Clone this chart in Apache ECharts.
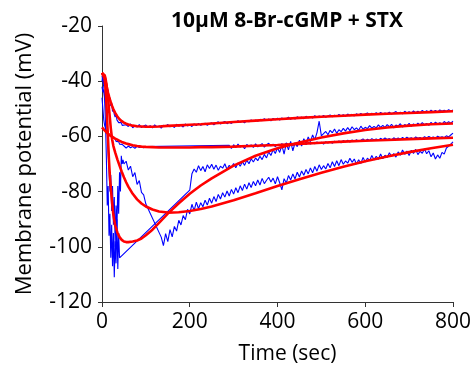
<!DOCTYPE html>
<html>
<head>
<meta charset="utf-8">
<script src="https://cdn.jsdelivr.net/npm/echarts@6/dist/echarts.min.js"></script>
<style>
html,body{margin:0;padding:0;background:#fff;}
#chart{width:474px;height:374px;}
</style>
</head>
<body>
<div id="chart"></div>
<script>
// Sample times (sec) shared by the recorded (blue) traces
var timeSec = [
  0,2,4,6,8,10,12,14,16,18,20,22,24,26,28,30,32,34,36,38,40,42,44,46,48,50,
  55,60,65,70,75,80,85,90,95,100,
  105,110,115,120,125,130,135,140,145,150,
  155,160,165,170,175,180,185,190,195,200,
  205,210,215,220,225,230,235,240,245,250,
  255,260,265,270,275,280,285,290,295,300,
  305,310,315,320,325,330,335,340,345,350,
  355,360,365,370,375,380,385,390,395,400,
  405,410,415,420,425,430,435,440,445,450,
  455,460,465,470,475,480,485,490,495,500,
  505,510,515,520,525,530,535,540,545,550,
  555,560,565,570,575,580,585,590,595,600,
  605,610,615,620,625,630,635,640,645,650,
  655,660,665,670,675,680,685,690,695,700,
  705,710,715,720,725,730,735,740,745,750,
  755,760,765,770,775,780,785,790,795,800
];

// Recorded membrane potential (mV), null = gap in recording
var trace1 = [
  -40,-38,-41,-39,-42,-40,-44,-43,-47,-46,-49,-48,-51,-50,-52,-53,-52,-54,-53.5,-55,-54.5,-55.5,-55,-56,-55.5,-56,
  -55.8,-56.4,-55.5,-56.9,-56.0,-56.6,-55.7,-56.8,-56.2,-55.9,
  -56.7,-56.1,-56.9,-55.8,-56.5,-56.2,-57.0,-56.0,-56.4,-55.7,
  -56.5,-56.0,-56.8,-55.6,-56.3,-55.9,-56.6,-55.5,-56.2,-55.8,
  -56.4,-55.5,-56.1,-55.3,-56.0,-55.6,-55.2,-56.0,-55.4,-55.1,
  -55.8,-55.2,-54.7,-55.5,-55.0,-54.6,-55.4,-54.9,-55.3,-54.6,
  -55.0,-54.3,-54.9,-54.5,-55.1,-54.2,-54.7,-54.0,-54.6,-54.1,
  -54.5,-53.8,-54.3,-53.6,-54.2,-53.7,-54.4,-53.5,-54.0,-53.4,
  -54.1,-53.3,-53.9,-53.6,-53.0,-53.8,-53.2,-53.7,-52.9,-53.4,
  -53.0,-53.6,-52.7,-53.3,-52.8,-53.4,-52.5,-53.1,-52.6,-53.0,
  -52.4,-53.1,-52.6,-52.2,-52.9,-52.3,-52.8,-52.0,-52.6,-52.1,
  -52.7,-51.9,-52.5,-52.0,-52.6,-51.8,-52.3,-51.7,-52.4,-51.9,
  -51.5,-52.2,-51.6,-52.1,-51.4,-52.0,-51.3,-51.9,-51.5,-51.8,
  -51.2,-51.9,-51.4,-51.0,-51.7,-51.2,-51.8,-50.9,-51.5,-51.1,
  -51.6,-50.8,-51.4,-50.9,-51.5,-50.6,-51.2,-50.7,-51.3,-50.5,
  -51.1,-50.6,-51.2,-50.4,-50.9,-50.5,-51.0,-50.3,-50.8,-50.4
];
var trace2 = [
  -46,-50,-54,-56,-57.2,-57.8,-58.6,-58.2,-59.4,-59.0,-60.1,-59.8,-60.6,-60.3,-61.2,-60.9,-61.8,-61.4,-62.3,-61.9,-62.8,-62.4,-63.2,-62.9,-63.6,-63.3,
  -64.2,-63.5,-64.1,-63.7,-64.3,-63.6,-64.0,-63.8,-64.1,-63.7,
  null,null,null,null,null,null,null,null,null,null,
  null,null,null,null,null,null,null,null,null,null,
  null,null,null,null,null,null,null,null,null,null,
  null,null,null,null,null,null,null,-63.2,-64.4,-63.0,
  -64.1,-62.8,-63.9,-63.3,-64.5,-62.9,-63.6,-63.1,-64.0,-62.7,
  -63.8,-63.2,-62.6,-63.9,-63.0,-62.5,-63.4,-62.8,-63.7,-62.9,
  -63.4,-62.6,-63.5,-62.4,-63.1,-62.7,-63.3,-62.5,-63.2,-62.3,
  -62.9,-62.4,-63.0,-62.2,-62.8,-62.3,-62.7,-62.0,-62.6,-62.1,
  -62.8,-61.9,-62.4,-61.8,-62.5,-61.7,-62.2,-61.6,-62.3,-61.5,
  -62.0,-61.4,-62.1,-61.3,-61.9,-61.2,-61.8,-61.4,-60.9,-61.6,
  -61.0,-61.5,-60.8,-61.3,-60.9,-61.4,-60.7,-61.2,-60.6,-61.1,
  -60.8,-61.3,-60.5,-61.0,-60.6,-61.1,-60.4,-60.9,-60.3,-60.8,
  -60.5,-61.0,-60.2,-60.7,-60.4,-60.9,-60.1,-60.6,-60.0,-60.5,
  -60.2,-60.7,-59.9,-60.4,-60.1,-60.5,-59.8,-60.2,-59.5,-58.8
];
var trace3 = [
  -38,-40,-42,-47,-55,-68,-85,-78,-96,-88,-104,-92,-107,-95,-111,-98,-106,-90,-108,-95,-104,null,null,null,null,null,
  null,null,null,null,null,null,null,null,null,null,
  null,null,null,null,null,null,null,null,null,null,
  null,null,null,null,null,null,null,null,null,-79.5,
  -73.5,-71.8,-73.0,-70.6,-72.4,-70.9,-72.8,-70.3,-71.6,-70.1,
  -71.9,-70.4,-72.3,-70.8,-71.5,-69.9,-72.0,-70.5,-71.2,-69.8,
  -71.4,-69.6,-70.8,-69.2,-70.5,-68.6,-69.9,-68.1,-69.3,-67.8,
  -68.8,-67.2,-68.4,-66.5,-67.8,-65.6,-66.9,-64.8,-66.2,-64.1,
  -65.8,-63.2,-66.4,-62.5,-64.9,-61.8,-65.2,-62.3,-63.7,-61.4,
  -63.5,-60.8,-62.6,-60.2,-61.9,-59.5,-61.2,-58.6,-54.5,-59.8,
  -59.0,-58.2,-59.4,-57.8,-58.7,-57.3,-58.9,-57.6,-58.3,-57.1,
  -58.1,-56.8,-57.9,-56.5,-57.6,-56.9,-57.8,-56.3,-57.4,-56.7,
  -57.2,-56.1,-57.0,-56.4,-56.9,-55.8,-56.7,-56.0,-56.8,-55.7,
  -56.5,-55.6,-56.9,-55.9,-56.3,-55.4,-56.6,-55.7,-56.2,-55.3,
  -56.4,-55.5,-56.1,-55.2,-55.9,-55.0,-55.8,-55.3,-56.0,-54.9,
  -55.7,-54.8,-55.5,-55.0,-55.6,-54.6,-55.3,-54.7,-55.2,-54.5
];
var trace4 = [
  -42,-44,-43,-46,-48,-52,-58,-66,-72,-80,-74,-87,-78,-92,-82,-100,-85,-94,-78,-88,-73,-80,-67,-70,-68.5,-70,
  -69.0,-72.2,-70.8,-74.6,-73.1,-77.4,-76.0,-80.3,-81.2,-84.5,
  null,null,null,null,null,null,-96.5,-99.6,-95.2,-98.1,
  -93.8,-96.4,-92.6,-94.3,-90.4,-92.1,-88.7,-90.2,-86.4,-88.1,
  -84.6,-86.9,-83.8,-86.2,-84.0,-85.5,-83.1,-84.9,-82.4,-84.2,
  -81.8,-83.6,-81.0,-82.7,-80.4,-82.0,-79.8,-81.6,-79.2,-80.9,
  -78.6,-80.4,-77.9,-79.6,-77.3,-79.1,-76.8,-78.5,-76.3,-77.9,
  -75.8,-77.6,-75.2,-77.1,-75.9,-74.8,-76.5,-75.1,-77.2,-74.6,
  -76.8,-79.4,-75.3,-76.9,-74.2,-75.8,-73.6,-75.4,-73.0,-74.7,
  -72.5,-74.1,-72.0,-73.6,-71.4,-73.2,-70.9,-72.6,-70.3,-72.0,
  -70.6,-71.8,-69.8,-71.4,-69.2,-70.9,-68.8,-70.6,-68.4,-70.1,
  -68.9,-69.7,-67.9,-69.4,-68.2,-70.0,-68.5,-69.8,-67.6,-69.3,
  -67.9,-68.8,-66.9,-68.5,-67.2,-68.3,-66.4,-68.1,-66.8,-67.7,
  -65.9,-67.3,-66.2,-67.5,-65.6,-66.8,-64.9,-66.5,-65.3,-66.9,
  -65.0,-66.2,-64.7,-66.6,-65.4,-66.1,-64.6,-66.3,-65.2,-67.4,
  -66.0,-68.2,-66.7,-67.9,-65.8,-66.4,-64.2,-63.6,-62.8,-62.0
];

// Fitted curves (red)
var fitTime = [0,2,4,6,8,10,12,14,16,18,20,23,26,30,35,40,45,50,55,60,70,80,90,100,115,130,150,175,200,225,250,300,350,400,450,500,550,600,650,700,750,800];
var fit1 = [-37,-37,-37.5,-38.5,-40,-41.5,-43,-44.3,-45.5,-46.6,-47.6,-49,-50.2,-51.5,-52.8,-53.8,-54.5,-55,-55.4,-55.7,-56.1,-56.3,-56.4,-56.5,-56.5,-56.4,-56.2,-56,-55.8,-55.6,-55.3,-54.8,-54.3,-53.8,-53.3,-52.9,-52.5,-52.1,-51.8,-51.5,-51.2,-50.9];
var fit2 = [-56.7,-57,-57.4,-57.8,-58.2,-58.5,-58.8,-59.1,-59.4,-59.6,-59.8,-60.1,-60.4,-60.8,-61.2,-61.6,-62,-62.3,-62.6,-62.8,-63.2,-63.5,-63.7,-63.8,-63.9,-64,-64,-64,-64,-63.9,-63.9,-63.7,-63.4,-63.1,-62.7,-62.3,-61.9,-61.6,-61.3,-61,-60.7,-60.5];
var fit3 = [-37,-37,-37.5,-39,-42.5,-48,-55,-62,-69,-74.5,-78.5,-84,-88.5,-92.2,-94.8,-96.5,-97.5,-98.1,-98.3,-98.3,-98.1,-97.7,-97,-95.8,-93.8,-91.3,-88,-84.2,-80.8,-77.8,-75.2,-70.6,-67,-64.3,-62.2,-60.4,-58.9,-57.7,-56.8,-56.1,-55.6,-55.3];
var fit4 = [-37,-37,-37.2,-37.8,-39,-41,-43.5,-46.5,-50,-53.5,-57,-61,-63.5,-65.8,-68.3,-70.6,-72.8,-74.8,-76.6,-78.2,-80.8,-82.8,-84.3,-85.4,-86.5,-87.2,-87.6,-87.5,-87,-86.3,-85.4,-83.1,-80.6,-78,-75.5,-73.2,-71,-69,-67.3,-65.7,-64.3,-63];

var xTicks = [0, 200, 400, 600, 800];
var yTicks = [-120, -100, -80, -60, -40, -20];

function pairs(xs, ys) { return xs.map(function (x, i) { return [x, ys[i]]; }); }

var FONT = '"Open Sans"';
var series = [];
[trace1, trace2, trace3, trace4].forEach(function (tr) {
  series.push({
    type: 'line', data: pairs(timeSec, tr), showSymbol: false, connectNulls: true,
    lineStyle: { color: '#0000ff', width: 1.1 }, z: 2, silent: true
  });
});
[fit1, fit2, fit3, fit4].forEach(function (f) {
  series.push({
    type: 'line', data: pairs(fitTime, f), showSymbol: false,
    lineStyle: { color: '#ff0000', width: 2.6 }, z: 3, silent: true
  });
});

var chart = echarts.init(document.getElementById('chart'), null, { renderer: 'canvas' });
chart.setOption({
  animation: false,
  backgroundColor: '#fff',
  title: {
    text: '10\u03bcM 8-Br-cGMP + STX',
    left: 282, top: 6, textAlign: 'center',
    textStyle: { fontFamily: FONT, fontWeight: 'bold', fontSize: 21, color: '#000' }
  },
  grid: { left: 102, right: 18, top: 26, bottom: 72 },
  xAxis: {
    type: 'value', min: xTicks[0], max: xTicks[xTicks.length - 1], interval: 200,
    name: 'Time (sec)', nameLocation: 'middle', nameGap: 42, nameMoveOverlap: false,
    nameTextStyle: { fontFamily: FONT, fontSize: 21, color: '#000', padding: [0, 0, 0, 20] },
    axisLine: { lineStyle: { color: '#333', width: 1 } },
    axisTick: { show: true, length: 5, lineStyle: { color: '#333' } },
    axisLabel: { fontFamily: FONT, fontSize: 21, color: '#000', margin: 10 },
    splitLine: { show: false }
  },
  yAxis: {
    type: 'value', min: yTicks[0], max: yTicks[yTicks.length - 1], interval: 20,
    name: 'Membrane potential (mV)', nameLocation: 'middle', nameGap: 66, nameMoveOverlap: false,
    nameTextStyle: { fontFamily: FONT, fontSize: 22, color: '#000' },
    axisLine: { show: true, lineStyle: { color: '#333', width: 1 } },
    axisTick: { show: true, length: 4, lineStyle: { color: '#333' } },
    axisLabel: { fontFamily: FONT, fontSize: 21, color: '#000', margin: 10 },
    splitLine: { show: false }
  },
  series: series
});
</script>
</body>
</html>
